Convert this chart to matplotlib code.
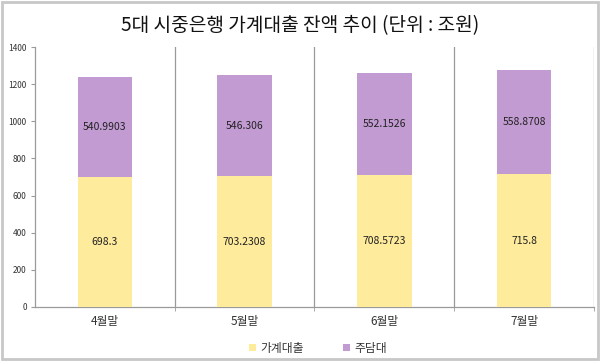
import numpy as np
import matplotlib
matplotlib.use("Agg")
import matplotlib.pyplot as plt
from matplotlib.patches import Rectangle

plt.rcParams["font.family"] = ["Noto Sans CJK KR", "DejaVu Sans"]

months = ["4월말", "5월말", "6월말", "7월말"]
household = [698.3, 703.2308, 708.5723, 715.8]
mortgage = [540.9903, 546.306, 552.1526, 558.8708]
household_labels = ["698.3", "703.2308", "708.5723", "715.8"]
mortgage_labels = ["540.9903", "546.306", "552.1526", "558.8708"]

YELLOW = "#FFEB9C"
PURPLE = "#C39BD3"
GRAY = "#9A9A9A"

fig = plt.figure(figsize=(6.0, 3.61), dpi=100)
ax = fig.add_axes([0.0583, 0.1496, 0.9317, 0.7202])

x = np.arange(len(months))
ax.bar(x, household, width=0.39, color=YELLOW, label="가계대출", zorder=3)
ax.bar(x, mortgage, width=0.39, bottom=household, color=PURPLE, label="주담대", zorder=3)

for i in range(len(months)):
    ax.text(x[i], household[i] / 2, household_labels[i], ha="center", va="center",
            fontsize=7.5, color="#222222", zorder=4)
    ax.text(x[i], household[i] + mortgage[i] / 2, mortgage_labels[i], ha="center", va="center",
            fontsize=7.5, color="#222222", zorder=4)

ax.set_xlim(-0.5, len(months) - 0.5)
ax.set_ylim(0, 1400)
ax.set_yticks(range(0, 1401, 200))
ax.set_xticks(x)
ax.set_xticklabels(months, fontsize=8.5, color="#333333")
ax.set_xticks(np.arange(len(months)) + 0.5, minor=True)
ax.tick_params(axis="x", which="major", length=0, pad=6)
ax.tick_params(axis="x", which="minor", length=3, color=GRAY)
ax.tick_params(axis="y", length=3, color=GRAY, labelsize=6, labelcolor="#333333", pad=3)
ax.grid(axis="x", which="minor", color=GRAY, linewidth=0.9, zorder=1)

for side in ["top", "right"]:
    ax.spines[side].set_visible(False)
for side in ["left", "bottom"]:
    ax.spines[side].set_color(GRAY)
    ax.spines[side].set_linewidth(0.9)

fig.text(0.5, 0.928, "5대 시중은행 가계대출 잔액 추이 (단위 : 조원)", ha="center", va="center",
         fontsize=13.8, color="#111111")

ax.legend(loc="center", bbox_to_anchor=(0.53, 0.035), bbox_transform=fig.transFigure,
          ncol=2, frameon=False, fontsize=8.5, handlelength=0.6, handleheight=0.6,
          handletextpad=0.4, columnspacing=3.3, labelcolor="#333333")

fig.patches.append(Rectangle((0.004, 0.006), 0.992, 0.988, transform=fig.transFigure,
                             fill=False, edgecolor="#C8C8C8", linewidth=2))

fig.savefig("out.png", dpi=100)
